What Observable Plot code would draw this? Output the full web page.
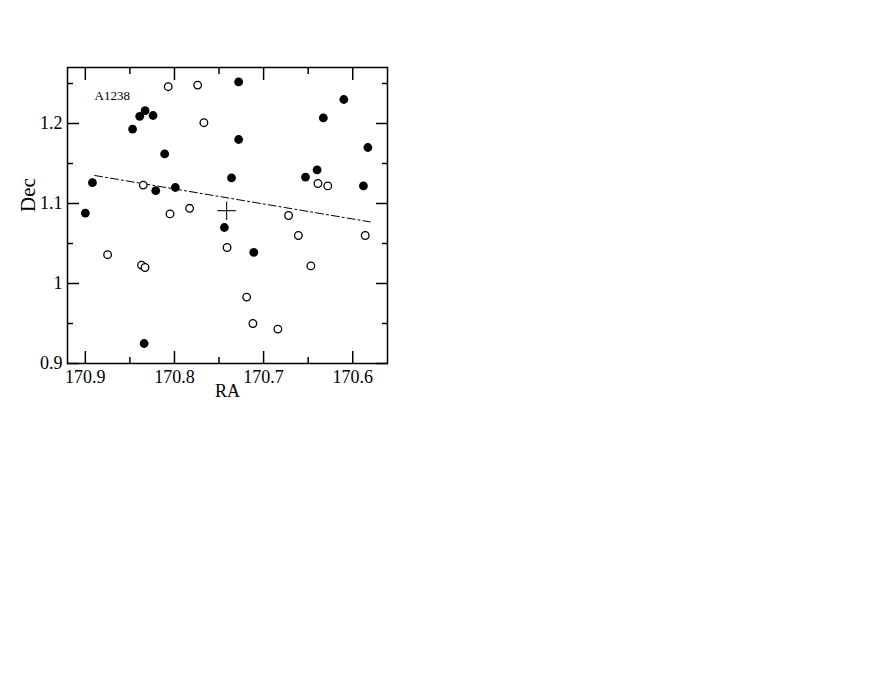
<!DOCTYPE html>
<html><head><meta charset="utf-8">
<script src="https://cdn.jsdelivr.net/npm/d3@7"></script>
<script src="https://cdn.jsdelivr.net/npm/@observablehq/plot@0.6"></script>
<style>body{margin:0;background:#fff} svg text{font-family:'Liberation Serif',serif;font-variant-numeric:normal}</style>
</head><body><div id="chart"></div>
<script>
const clusterName = "A1238";
const filledRA  = [170.900,170.892,170.847,170.839,170.833,170.824,170.811,170.821,170.799,170.728,170.728,170.736,170.744,170.711,170.834,170.653,170.640,170.633,170.610,170.583,170.588];
const filledDec = [1.088,1.126,1.193,1.209,1.216,1.210,1.162,1.116,1.120,1.252,1.180,1.132,1.070,1.039,0.925,1.133,1.142,1.207,1.230,1.170,1.122];
const openRA  = [170.807,170.774,170.767,170.835,170.805,170.783,170.875,170.837,170.833,170.741,170.719,170.712,170.684,170.672,170.661,170.647,170.586,170.639,170.628];
const openDec = [1.246,1.248,1.201,1.123,1.087,1.094,1.036,1.023,1.020,1.045,0.983,0.950,0.943,1.085,1.060,1.022,1.060,1.125,1.122];
const centerRA = [170.7415];
const centerDec = [1.091];
const fitRA  = [170.8895, 170.5805];
const fitDec = [1.135, 1.077];
const xMajor = [170.9, 170.8, 170.7, 170.6];
const xMinor = [170.85, 170.75, 170.65];
const yMajor = [0.9, 1.0, 1.1, 1.2];
const yMinor = [0.95, 1.05, 1.15, 1.25];

const filled = filledRA.map((r, i) => ({ra: r, dec: filledDec[i]}));
const open = openRA.map((r, i) => ({ra: r, dec: openDec[i]}));
const center = centerRA.map((r, i) => ({ra: r, dec: centerDec[i]}));
const fit = fitRA.map((r, i) => ({ra: r, dec: fitDec[i]}));

const serif = "Liberation Serif";
const tickStyle = {fill: "none", stroke: "black", strokeWidth: 1.5, label: null};
const chart = Plot.plot({
  width: 872,
  height: 674,
  marginLeft: 67,
  marginTop: 67,
  marginRight: 485,
  marginBottom: 311,
  style: {fontFamily: serif, fontSize: "18px", background: "white", color: "black"},
  x: {domain: [170.92, 170.561], axis: null},
  y: {domain: [0.9, 1.27], axis: null},
  marks: [
    Plot.frame({stroke: "black", strokeWidth: 1.5}),
    Plot.axisX(xMajor, {...tickStyle, anchor: "bottom", tickSize: -12}),
    Plot.axisX(xMinor, {...tickStyle, anchor: "bottom", tickSize: -6}),
    Plot.axisX(xMajor, {...tickStyle, anchor: "top", tickSize: -12}),
    Plot.axisX(xMinor, {...tickStyle, anchor: "top", tickSize: -6}),
    Plot.axisY(yMajor, {...tickStyle, anchor: "left", tickSize: -12}),
    Plot.axisY(yMinor, {...tickStyle, anchor: "left", tickSize: -6}),
    Plot.axisY(yMajor, {...tickStyle, anchor: "right", tickSize: -12}),
    Plot.axisY(yMinor, {...tickStyle, anchor: "right", tickSize: -6}),
    Plot.axisX(xMajor, {anchor: "bottom", tickSize: 0, tickPadding: 6.5, label: null, tickFormat: d => String(d), fontSize: 18, fontFamily: serif}),
    Plot.axisY(yMajor, {anchor: "left", tickSize: 0, tickPadding: 5, label: null, tickFormat: d => String(+d.toFixed(2)), fontSize: 18, fontFamily: serif}),
    Plot.text(["RA"], {frameAnchor: "bottom", dy: 33, fontSize: 18, fontFamily: serif}),
    Plot.text(["Dec"], {frameAnchor: "left", rotate: -90, dx: -39, dy: -3.5, fontSize: 21, fontFamily: serif}),
    Plot.text([clusterName], {frameAnchor: "top-left", textAnchor: "start", dx: 27, dy: 23, fontSize: 13, fontFamily: serif}),
    Plot.line(fit, {x: "ra", y: "dec", stroke: "black", strokeWidth: 1, strokeDasharray: "8,3,2,3"}),
    Plot.dot(open, {x: "ra", y: "dec", r: 3.8, stroke: "black", strokeWidth: 1.3, fill: "white"}),
    Plot.dot(filled, {x: "ra", y: "dec", r: 4.4, fill: "black", stroke: "none"}),
    Plot.dot(center, {x: "ra", y: "dec", symbol: "plus", r: 6, stroke: "#222", strokeWidth: 1.2})
  ]
});
document.getElementById("chart").appendChild(chart);
</script>
</body></html>
